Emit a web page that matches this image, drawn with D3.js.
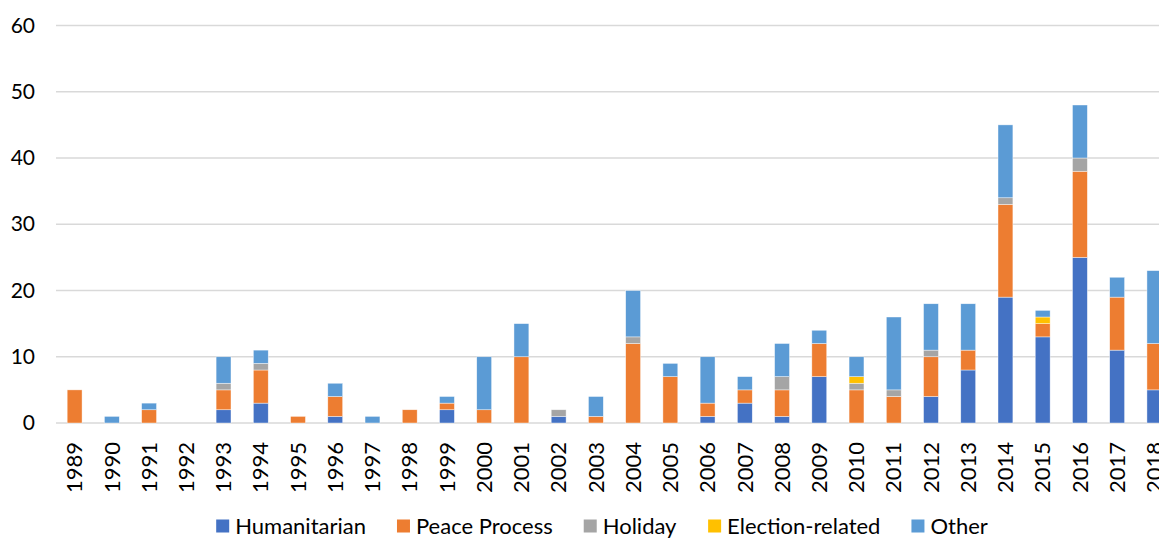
<!DOCTYPE html>
<html>
<head>
<meta charset="utf-8">
<script src="https://cdn.jsdelivr.net/npm/d3@7"></script>
<style>
  body { margin: 0; background: #fff; overflow: hidden; }
  text { font-family: "Gill Sans", "Lato", "Open Sans", sans-serif; fill: #000; }
</style>
</head>
<body>
<svg id="drawing_region"></svg>
<script>
// categories
const years = ['1989','1990','1991','1992','1993','1994','1995','1996','1997','1998',
  '1999','2000','2001','2002','2003','2004','2005','2006','2007','2008',
  '2009','2010','2011','2012','2013','2014','2015','2016','2017','2018'];

// series values
const humanitarian = [0,0,0,0,2,3,0,1,0,0, 2,0,0,1,0,0,0,1,3,1, 7,0,0,4,8,19,13,25,11,5];
const peaceProcess = [5,0,2,0,3,5,1,3,0,2, 1,2,10,0,1,12,7,2,2,4, 5,5,4,6,3,14,2,13,8,7];
const holiday      = [0,0,0,0,1,1,0,0,0,0, 0,0,0,1,0,1,0,0,0,2, 0,1,1,1,0,1,0,2,0,0];
const election     = [0,0,0,0,0,0,0,0,0,0, 0,0,0,0,0,0,0,0,0,0, 0,1,0,0,0,0,1,0,0,0];
const other        = [0,1,1,0,4,2,0,2,1,0, 1,8,5,0,3,7,2,7,2,5, 2,3,11,7,7,11,1,8,3,11];

const seriesNames = ['Humanitarian', 'Peace Process', 'Holiday', 'Election-related', 'Other'];
const seriesColors = ['#4472C4', '#ED7D31', '#A5A5A5', '#FFC000', '#5B9BD5'];
const yTicks = [0, 10, 20, 30, 40, 50, 60];

class StackedBarChart {
    constructor(config) {
        this.config = {
            parentElement: config.parentElement,
            width: config.width || 1159,
            height: config.height || 538,
            margin: config.margin || {top: 25.5, right: -14, bottom: 115, left: 56}
        };
        this.init();
    }

    init() {
        const {width, height, margin} = this.config;

        this.svg = d3.select(this.config.parentElement)
            .attr('width', width)
            .attr('height', height);

        this.chart = this.svg.append('g')
            .attr('transform', `translate(${margin.left}, ${margin.top})`);

        this.inner_width = width - margin.left - margin.right;
        this.inner_height = height - margin.top - margin.bottom;

        this.xscale = d3.scaleBand().range([0, this.inner_width]).paddingInner(0.6).paddingOuter(0.3);
        this.yscale = d3.scaleLinear().range([this.inner_height, 0]);

        this.grid_group = this.chart.append('g');
        this.yaxis_group = this.chart.append('g');
        this.xaxis_group = this.chart.append('g')
            .attr('transform', `translate(0, ${this.inner_height})`);
        this.bar_group = this.chart.append('g');
        this.legend_group = this.svg.append('g');
    }

    update() {
        this.table = years.map((y, i) => ({
            year: y,
            'Humanitarian': humanitarian[i],
            'Peace Process': peaceProcess[i],
            'Holiday': holiday[i],
            'Election-related': election[i],
            'Other': other[i]
        }));
        this.stacked = d3.stack().keys(seriesNames)(this.table);

        this.xscale.domain(years);
        this.yscale.domain([0, 60]);
        this.render();
    }

    render() {
        const color = d3.scaleOrdinal().domain(seriesNames).range(seriesColors);

        // gridlines
        this.grid_group.selectAll('line')
            .data(yTicks)
            .join('line')
            .attr('x1', 0)
            .attr('x2', this.inner_width)
            .attr('y1', d => this.yscale(d))
            .attr('y2', d => this.yscale(d))
            .attr('stroke', '#d9d9d9')
            .attr('stroke-width', 1.5);

        // y axis labels
        const yaxis = d3.axisLeft(this.yscale).tickValues(yTicks).tickSize(0).tickPadding(21);
        this.yaxis_group.call(yaxis);
        this.yaxis_group.select('.domain').remove();
        this.yaxis_group.selectAll('text')
            .attr('font-size', 21)
            .attr('font-family', null);

        // x axis labels, rotated
        const xaxis = d3.axisBottom(this.xscale).tickSize(0);
        this.xaxis_group.call(xaxis);
        this.xaxis_group.select('.domain').remove();
        this.xaxis_group.selectAll('text')
            .attr('font-size', 22)
            .attr('font-family', null)
            .attr('transform', 'rotate(-90)')
            .attr('text-anchor', 'end')
            .attr('dy', '0.35em')
            .attr('x', -19)
            .attr('y', 0);

        // bars
        this.bar_group.selectAll('g')
            .data(this.stacked)
            .join('g')
            .attr('fill', d => color(d.key))
            .selectAll('rect')
            .data(d => d)
            .join('rect')
            .attr('x', d => this.xscale(d.data.year))
            .attr('width', this.xscale.bandwidth())
            .attr('y', d => this.yscale(d[1]))
            .attr('height', d => this.yscale(d[0]) - this.yscale(d[1]))
            .attr('stroke', '#fff')
            .attr('stroke-width', 0.6)
            .attr('stroke-opacity', 0.7);

        // legend
        const items = this.legend_group.selectAll('g')
            .data(seriesNames)
            .join('g');
        items.append('rect')
            .attr('width', 13)
            .attr('height', 13)
            .attr('y', -6.5)
            .attr('fill', d => color(d));
        items.append('text')
            .attr('x', 19)
            .attr('dy', '0.35em')
            .attr('font-size', 22)
            .text(d => d);

        let xpos = 0;
        const gap = 31;
        items.each(function() {
            const w = this.getBBox().width;
            d3.select(this).attr('data-x', xpos);
            xpos += w + gap;
        });
        const total = xpos - gap;
        const start = 602 - total / 2;
        items.attr('transform', function() {
            return `translate(${start + (+d3.select(this).attr('data-x'))}, 526)`;
        });
    }
}

const chart = new StackedBarChart({
    parentElement: '#drawing_region',
    width: 1159,
    height: 538
});

chart.update();
</script>
</body>
</html>
